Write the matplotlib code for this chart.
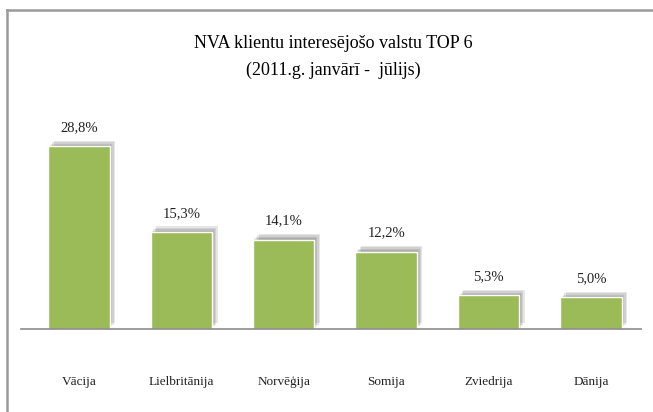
import matplotlib.pyplot as plt
import matplotlib.patheffects as pe
import numpy as np

countries = ['Vācija', 'Lielbritānija', 'Norvēģija', 'Somija', 'Zviedrija', 'Dānija']
shares = [28.8, 15.3, 14.1, 12.2, 5.3, 5.0]
labels = ['28,8%', '15,3%', '14,1%', '12,2%', '5,3%', '5,0%']

plt.rcParams['font.family'] = ['Liberation Serif', 'DejaVu Serif']

fig = plt.figure(figsize=(6.53, 4.12), dpi=100)
ax = fig.add_axes([21 / 653, 83 / 412, 620 / 653, 222 / 412])

x = np.arange(len(countries))
bars = ax.bar(x, shares, width=0.6, color='#9BBB59', edgecolor='white', linewidth=1)
# soft shadow: several faint offset copies
shadow = [pe.SimplePatchShadow(offset=(d, d), shadow_rgbFace='#404040', alpha=0.13)
          for d in (1, 2, 3, 4)]
for b in bars:
    b.set_path_effects(shadow + [pe.Normal()])

for xi, v, t in zip(x, shares, labels):
    ax.text(xi, v + 1.9, t, ha='center', va='bottom', fontsize=10.5, color='#222222')

ax.set_xlim(-0.566, 5.489)
ax.set_ylim(0, 35)
ax.set_yticks([])
ax.set_xticks([])
for s in ['top', 'right', 'left']:
    ax.spines[s].set_visible(False)
ax.spines['bottom'].set_color('#8c8c8c')
ax.spines['bottom'].set_linewidth(1.2)

for xi, c in zip(x, countries):
    ax.text(xi, -8.3, c, ha='center', va='center', fontsize=9.5, color='#222222')

fig.text(0.511, 1 - 43 / 412, 'NVA klientu interesējošo valstu TOP 6', ha='center', va='center', fontsize=13)
fig.text(0.511, 1 - 70 / 412, '(2011.g. janvārī -  jūlijs)', ha='center', va='center', fontsize=13)

# outer frame (left and top edges visible)
fig.add_artist(plt.Line2D([7 / 653, 7 / 653], [0, 1 - 10 / 412], color='#9a9a9a', linewidth=1.8))
fig.add_artist(plt.Line2D([7 / 653, 1], [1 - 10 / 412, 1 - 10 / 412], color='#9a9a9a', linewidth=1.8))

fig.savefig('out.png', dpi=100)
